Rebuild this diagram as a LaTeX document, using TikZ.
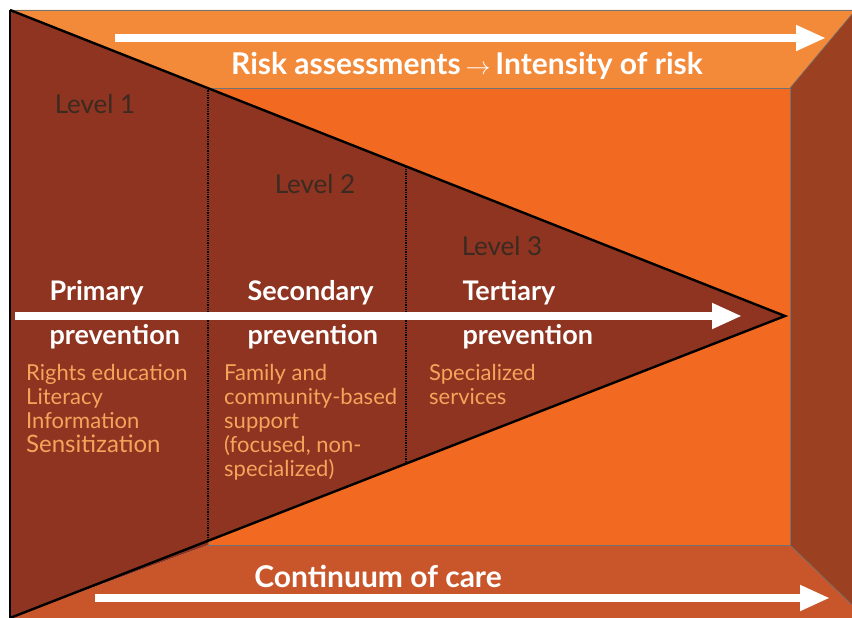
\documentclass[tikz,border=0pt]{standalone}
\usepackage{fontspec}
\setmainfont{Lato}
\usetikzlibrary{arrows.meta,calc}

\definecolor{backwall}{HTML}{F26A21}
\definecolor{topband}{HTML}{F28A3A}
\definecolor{bottomband}{HTML}{C9552A}
\definecolor{sidewall}{HTML}{9B4121}
\definecolor{wedge}{HTML}{8E3420}
\definecolor{leveltext}{HTML}{3B2A22}
\definecolor{listtext}{HTML}{F7A35C}

\tikzset{
  flow arrow/.style={white, line width=8.5pt, -{Triangle[length=30pt,width=24pt]}},
  edge line/.style={draw=black!55, line width=0.6pt},
  levelname/.style={text=leveltext, font=\fontsize{26}{28}\selectfont},
  stagename/.style={text=white, anchor=west, font=\bfseries\fontsize{27}{29}\selectfont},
  itemlist/.style={text=listtext, anchor=north west, align=left, inner sep=0pt,
    font=\fontsize{22}{24}\selectfont},
  bandtext/.style={text=white, font=\bfseries\fontsize{30}{32}\selectfont},
  divider/.style={densely dotted, line width=1.3pt, black}
}

\begin{document}
\begin{tikzpicture}[x=1pt,y=-1pt]
\useasboundingbox (0,0) rectangle (852,618);

% room corners
\coordinate (otl) at (10,10);
\coordinate (otr) at (852,10);
\coordinate (obl) at (10,618);
\coordinate (obr) at (852,618);
\coordinate (itl) at (208,88);
\coordinate (itr) at (790,88);
\coordinate (ibl) at (208,545);
\coordinate (ibr) at (790,545);
\coordinate (rwt) at (852,14);
\coordinate (rwb) at (852,605);

% walls, ceiling and floor
\fill[topband] (otl) -- (otr) -- (rwt) -- (itr) -- (itl) -- cycle;
\fill[bottomband] (ibl) -- (ibr) -- (rwb) -- (obr) -- (obl) -- cycle;
\fill[sidewall] (itr) -- (rwt) -- (rwb) -- (ibr) -- cycle;
\fill[wedge] (otl) -- (itl) -- (ibl) -- (obl) -- cycle;
\fill[backwall] (itl) rectangle (ibr);
\draw[edge line] (itl) rectangle (ibr);
\draw[edge line] (itr) -- (rwt) (ibr) -- (rwb);
\draw[edge line] (otl) -- (otr);

% prevention wedge
\coordinate (tip) at (785,316);
\fill[wedge] (otl) -- (tip) -- (obl) -- cycle;
\draw[black, line width=2.4pt, line join=miter] (otl) -- (tip) -- (obl);
\draw[black, line width=2pt] (otl) -- (obl);

% level dividers
\coordinate (d1t) at ($(otl)!0.2555!(tip)$);
\coordinate (d1b) at ($(obl)!0.2555!(tip)$);
\coordinate (d2t) at ($(otl)!0.511!(tip)$);
\coordinate (d2b) at ($(obl)!0.511!(tip)$);
\draw[divider] (d1t) -- (d1b);
\draw[divider] (d2t) -- (d2b);

% arrows
\coordinate (riskA) at (115,38);
\coordinate (riskB) at (826,38);
\coordinate (prevA) at (15,316);
\coordinate (prevB) at (742,316);
\coordinate (careA) at (95,598);
\coordinate (careB) at (830,598);
\draw[flow arrow] (riskA) -- (riskB);
\draw[flow arrow] (prevA) -- (prevB);
\draw[flow arrow] (careA) -- (careB);

\node[bandtext] (risk) at (467,66) {Risk assessments\,$\rightarrow$\,Intensity of risk};
\node[bandtext] (care) at (378,576) {Continuum of care};

% levels
\node[levelname] (lev1) at (95,104) {Level 1};
\node[levelname] (lev2) at (315,184) {Level 2};
\node[levelname] (lev3) at (502,246) {Level 3};

% stages
\node[stagename] (prim) at (46,293) {Primary};
\node[stagename] (primb) at (46,337) {prevention};
\node[stagename] (sec) at (244,293) {Secondary};
\node[stagename] (secb) at (244,337) {prevention};
\node[stagename] (ter) at (459,293) {Tertiary};
\node[stagename] (terb) at (459,337) {prevention};

% activities
\node[itemlist] (primlist) at (26,364) {Rights education\\Literacy\\Information\\{\fontsize{24}{24}\selectfont Sensitization}};
\node[itemlist] (seclist) at (224,364) {Family and\\community-based\\support\\(focused, non-\\specialized)};
\node[itemlist] (terlist) at (429,364) {Specialized\\services};
\end{tikzpicture}
\end{document}
